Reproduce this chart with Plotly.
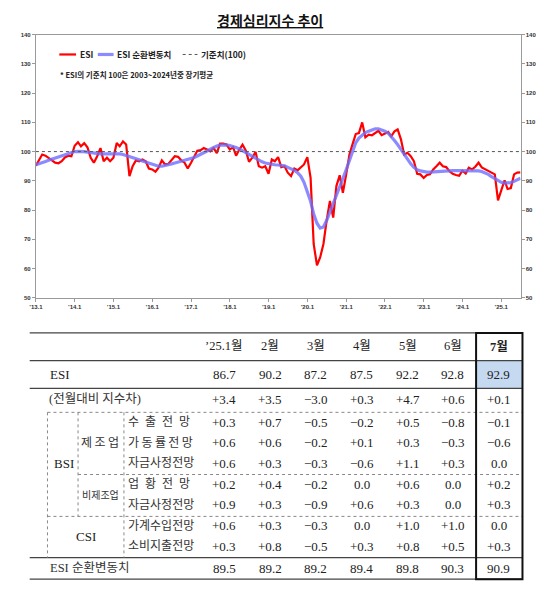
import pandas as pd
import plotly.graph_objects as go

W, H = 536, 599

# monthly ESI (original series), Jan 2013 ~ Jul 2025
esi_by_year = {
    2013: [95.2, 97.3, 99.0, 98.6, 97.9, 97.0, 96.2, 96.0, 96.7, 98.0, 98.6, 98.4],
    2014: [102.0, 103.2, 101.8, 102.9, 101.5, 97.9, 96.2, 98.4, 101.2, 96.7, 97.9, 96.7],
    2015: [97.9, 102.9, 101.8, 103.5, 102.4, 91.6, 95.0, 97.0, 96.7, 97.3, 96.7, 94.2],
    2016: [93.9, 93.1, 94.5, 97.0, 95.6, 95.8, 97.0, 98.4, 98.2, 97.0, 96.2, 94.2],
    2017: [96.2, 98.1, 100.3, 100.5, 101.2, 100.7, 100.1, 101.2, 99.5, 102.7, 102.7, 102.4],
    2018: [100.7, 101.5, 98.6, 100.7, 102.4, 100.3, 96.5, 97.9, 99.9, 95.0, 94.5, 95.0],
    2019: [92.4, 97.3, 96.7, 98.1, 94.7, 95.0, 92.8, 91.6, 94.2, 93.6, 94.7, 95.6],
    2020: [98.1, 91.0, 68.4, 61.1, 63.8, 68.4, 76.4, 83.1, 77.4, 88.2, 91.9, 85.9],
    2021: [92.1, 99.0, 102.4, 106.0, 106.3, 110.0, 104.9, 105.8, 105.6, 106.2, 107.1, 105.6],
    2022: [106.3, 106.7, 105.2, 106.9, 107.6, 104.2, 99.0, 99.6, 98.4, 96.7, 92.4, 92.2],
    2023: [91.0, 92.0, 92.2, 93.9, 95.0, 96.2, 95.0, 94.7, 93.3, 92.4, 92.0, 91.7],
    2024: [93.5, 92.5, 94.5, 93.9, 94.8, 96.2, 94.6, 94.0, 93.2, 92.9, 92.2, 83.3],
    2025: [86.7, 90.2, 87.2, 87.5, 92.2, 92.8, 92.9],
}

# ESI 순환변동치 (cyclical component)
cycle_by_year = {
    2013: [95.5, 95.8, 96.2, 96.6, 97.0, 97.4, 97.8, 98.2, 98.6, 99.0, 99.4, 99.7],
    2014: [100.0, 100.1, 100.1, 100.0, 99.8, 99.6, 99.4, 99.3, 99.2, 99.2, 99.2, 99.3],
    2015: [99.3, 99.3, 99.2, 99.0, 98.7, 98.3, 97.9, 97.5, 97.2, 96.8, 96.4, 96.0],
    2016: [95.6, 95.2, 95.0, 95.0, 95.2, 95.5, 95.8, 96.1, 96.4, 96.7, 97.0, 97.3],
    2017: [97.6, 98.0, 98.5, 99.0, 99.6, 100.2, 100.8, 101.4, 101.9, 102.2, 102.3, 102.3],
    2018: [102.1, 101.8, 101.4, 100.9, 100.3, 99.6, 98.9, 98.2, 97.6, 97.0, 96.5, 96.1],
    2019: [95.8, 95.6, 95.5, 95.4, 95.3, 95.1, 94.6, 94.2, 93.6, 92.8, 91.6, 89.5],
    2020: [86.6, 83.0, 78.6, 75.5, 73.8, 74.2, 76.4, 79.2, 82.0, 84.9, 87.7, 90.8],
    2021: [93.8, 97.0, 100.5, 103.0, 104.6, 105.7, 106.5, 107.0, 107.5, 107.8, 107.8, 107.5],
    2022: [107.0, 106.3, 105.2, 103.8, 102.4, 100.7, 99.0, 97.3, 95.8, 94.6, 93.8, 93.4],
    2023: [93.1, 93.0, 93.0, 93.1, 93.2, 93.3, 93.4, 93.4, 93.5, 93.5, 93.5, 93.5],
    2024: [93.5, 93.5, 93.5, 93.5, 93.5, 93.4, 93.2, 92.8, 92.2, 91.4, 90.7, 89.9],
    2025: [89.5, 89.2, 89.2, 89.4, 89.8, 90.3, 90.9],
}

base_level = 100
tick_years = list(range(2013, 2026))

# table (2025.1 ~ 2025.7)
month_labels = ["’25.1월", "2월", "3월", "4월", "5월", "6월", "7월"]
diff_row = [3.4, 3.5, -3.0, 0.3, 4.7, 0.6, 0.1]
sub_rows = [
    ("수\u2002출\u2002전\u2002망", [0.3, 0.7, -0.5, -0.2, 0.5, -0.8, -0.1]),
    ("가\u2009동\u2009률\u2009전\u2009망", [0.6, 0.6, -0.2, 0.1, 0.3, -0.3, -0.6]),
    ("자금사정전망", [0.6, 0.3, -0.3, -0.6, 1.1, 0.3, 0.0]),
    ("업\u2002황\u2002전\u2002망", [0.2, 0.4, -0.2, 0.0, 0.6, 0.0, 0.2]),
    ("자금사정전망", [0.9, 0.3, -0.9, 0.6, 0.3, 0.0, 0.3]),
    ("가계수입전망", [0.6, 0.3, -0.3, 0.0, 1.0, 1.0, 0.0]),
    ("소비지출전망", [0.3, 0.8, -0.5, 0.3, 0.8, 0.5, 0.3]),
]

esi = [v for y in esi_by_year for v in esi_by_year[y]]
cycle = [v for y in cycle_by_year for v in cycle_by_year[y]]
dates = pd.date_range("2013-01-01", periods=len(esi), freq="MS")
esi_row = esi[-7:]
cycle_row = cycle[-7:]


def px(x):
    return x / W


def py(y):
    return 1 - y / H


def signed(v):
    if v == 0:
        return "0.0"
    return f"+{v:.1f}" if v > 0 else f"−{abs(v):.1f}"


KR = "Noto Sans CJK KR"
SERIF = "Liberation Serif, Noto Sans CJK KR"

esi_line = dict(color="#ff0000", width=2.2)
cycle_line = dict(color="rgba(110,110,255,0.8)", width=3.2)
base_line = dict(color="#555", width=1, dash="dot")

fig = go.Figure()
fig.add_trace(go.Scatter(x=dates, y=esi, name="ESI", mode="lines", line=esi_line))
fig.add_trace(go.Scatter(x=dates, y=cycle, name="ESI 순환변동치", mode="lines", line=cycle_line))
fig.add_trace(go.Scatter(x=[dates[0], dates[-1]], y=[base_level, base_level], name="기준치(100)",
                         mode="lines", yaxis="y2", line=base_line))

tickfont = dict(family="Liberation Sans", size=6, color="#333", weight="bold")
fig.update_layout(
    width=W, height=H, margin=dict(l=0, r=0, t=0, b=0),
    paper_bgcolor="white", plot_bgcolor="white",
    font=dict(family=KR, color="#222"),
    showlegend=False,
    xaxis=dict(domain=[px(29.3), px(520.3)], type="date",
               range=[dates[0], dates[-1]],
               tickvals=[pd.Timestamp(f"{y}-01-01") for y in tick_years],
               ticktext=[f"’{y % 100}.1" for y in tick_years],
               showgrid=False, zeroline=False, showline=True, mirror=True,
               linecolor="#9a9a9a", ticks="outside", ticklen=3, tickcolor="#9a9a9a",
               tickfont=tickfont),
    yaxis=dict(domain=[py(297.7), py(32)], range=[50, 140], dtick=10,
               showgrid=False, zeroline=False, showline=True, mirror=True,
               linecolor="#9a9a9a", ticks="outside", ticklen=3, tickcolor="#9a9a9a",
               tickfont=tickfont),
    yaxis2=dict(overlaying="y", side="right", range=[50, 140], dtick=10,
                showgrid=False, zeroline=False, showline=False,
                ticks="outside", ticklen=3, tickcolor="#9a9a9a", tickfont=tickfont),
)

P = dict(xref="paper", yref="paper", showarrow=False, yanchor="middle")
annotations = [
    dict(P, x=px(266), y=py(17.5), xanchor="center", text="<b><u>경제심리지수 추이</u></b>",
         font=dict(family=KR, size=14, color="#111")),
    dict(P, x=px(52), y=py(72), xanchor="left", text="* ESI의 기준치 100은 2003~2024년중 장기평균",
         font=dict(family=KR, size=7.5, color="#222", weight="bold")),
]
shapes = []

# legend drawn in place (short samples, as in the source)
legend_items = [(fig.data[0], 53, 70), (fig.data[1], 92, 108), (fig.data[2], 178, 193)]
for tr, x0, x1 in legend_items:
    ln = tr.line
    shapes.append(dict(type="line", xref="paper", yref="paper", x0=px(x0), x1=px(x1),
                       y0=py(52), y1=py(52),
                       line=dict(color=ln.color, width=ln.width, dash=ln.dash or "solid")))
    annotations.append(dict(P, x=px(x1 + 1.5), y=py(51.5), xanchor="left", text=tr.name,
                            font=dict(family=KR, size=8.5, color="#222", weight="bold")))

# ---- table ----
col_x = [220, 266.5, 313, 359.5, 406, 451.5, 498.5]
row_y = [423.3, 444.2, 465.1, 486.0, 506.9, 527.8, 548.7]


def hline(y, x0, x1, dash="solid", width=1.3, color="#444"):
    shapes.append(dict(type="line", xref="paper", yref="paper", x0=px(x0), x1=px(x1),
                       y0=py(y), y1=py(y), line=dict(color=color, width=width, dash=dash)))


def vline(x, y0, y1, dash="dot", width=1, color="#888"):
    shapes.append(dict(type="line", xref="paper", yref="paper", x0=px(x), x1=px(x),
                       y0=py(y0), y1=py(y1), line=dict(color=color, width=width, dash=dash)))


def cell(x, y, text, size=13, anchor="center", bold=False, color="#222"):
    annotations.append(dict(P, x=px(x), y=py(y), xanchor=anchor,
                            text=f"<b>{text}</b>" if bold else text,
                            font=dict(family=SERIF, size=size, color=color)))


# highlighted current-month ESI cell
shapes.append(dict(type="rect", xref="paper", yref="paper", x0=px(475.3), x1=px(522.3),
                   y0=py(389.3), y1=py(361.3), fillcolor="#c5d9f1", line=dict(width=0), layer="below"))

for y in (333.3, 361.3, 389.3, 560.3, 582):
    hline(y, 23, 522.3)
hline(413.5, 41, 522.3, dash="dot", width=1, color="#888")
hline(476.3, 72, 522.3, dash="dot", width=1, color="#888")
hline(518.6, 41, 522.3, dash="dot", width=1, color="#888")
vline(41, 413.5, 560.3)
vline(72, 413.5, 518.6)
vline(118.5, 413.5, 560.3)
shapes.append(dict(type="rect", xref="paper", yref="paper", x0=px(475.3), x1=px(522.3),
                   y0=py(582), y1=py(333.3), line=dict(color="#111", width=2)))

for i, m in enumerate(month_labels):
    cell(col_x[i], 346.7, m, size=12.5, bold=(i == len(month_labels) - 1))
    cell(col_x[i], 375.3, f"{esi_row[i]:.1f}")
    cell(col_x[i], 400.2, signed(diff_row[i]))
    cell(col_x[i], 571.2, f"{cycle_row[i]:.1f}")
    for r, (_, vals) in enumerate(sub_rows):
        cell(col_x[i], row_y[r], signed(vals[i]))

kr_label = "#333"
for r, (label, _) in enumerate(sub_rows):
    cell(120.5, row_y[r], label, size=12, anchor="left", color=kr_label)

cell(41.5, 375.3, "ESI", anchor="left")
cell(40.5, 400.2, "(전월대비 지수차)", size=12.5, anchor="left", color=kr_label)
cell(57.5, 465.1, "BSI")
cell(94.5, 444.2, "제\u2009조\u2009업", size=12, color=kr_label)
cell(94.5, 497.3, "비제조업", size=10, color=kr_label)
cell(80, 538.5, "CSI")
cell(41.5, 571.2, "ESI 순환변동치", size=12.5, anchor="left", color=kr_label)

fig.update_layout(annotations=annotations, shapes=shapes)
fig.write_html("out.html", config={"displayModeBar": False},
               post_script="document.body.style.margin='0';")
